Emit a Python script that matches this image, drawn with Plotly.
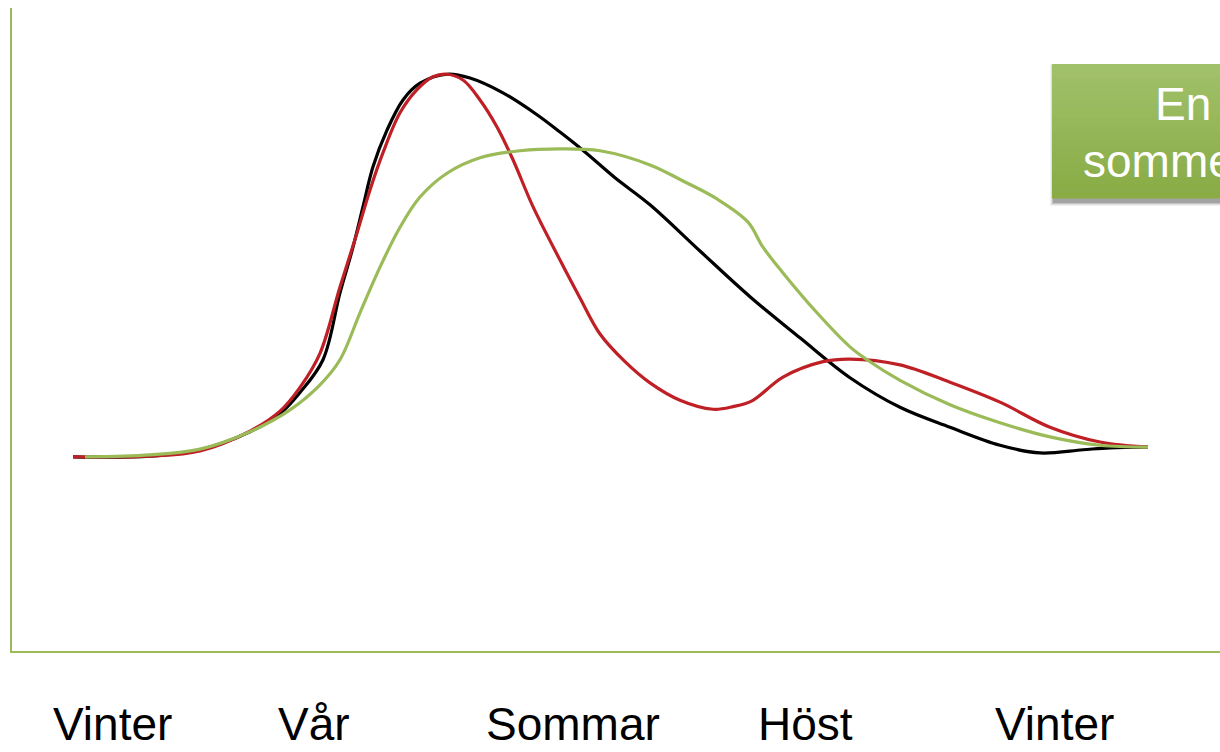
import plotly.graph_objects as go

# Season labels along the horizontal axis
season_labels = ["Vinter", "Vår", "Sommar", "Höst", "Vinter"]
season_pos = [10.0, 30.2, 56.1, 79.3, 104.2]

# Black curve
black_x = [6.1, 13.8, 18.8, 23.8, 26.8, 28.8, 31.1, 32.8, 34.1, 35.1, 36.1, 37.5, 39.1, 40.8, 43.5,
           45.8, 49.1, 52.5, 54.8, 57.3, 60.3, 63.8, 68.8, 73.8, 78.8, 83.8, 88.8, 93.8, 98.8,
           102.8, 107.1, 109.8, 113.6]
black_y = [30.2, 30.3, 31.3, 34.1, 36.9, 40.2, 45.3, 55.7, 62.8, 69.1, 75.3, 81.0, 85.7, 88.3, 89.7,
           89.1, 86.8, 83.4, 80.7, 77.6, 73.6, 69.4, 62.2, 55.1, 48.7, 42.5, 37.9, 34.8, 32.0,
           30.8, 31.3, 31.6, 31.7]

# Red curve
red_x = [6.1, 13.8, 18.8, 23.8, 26.8, 28.8, 30.8, 32.8, 34.5, 35.8, 37.1, 38.8, 40.5, 42.1, 43.5,
         45.1, 46.8, 48.5, 50.1, 52.1, 54.8, 56.8, 58.8, 61.3, 63.8, 66.8, 70.1, 72.1, 74.0,
         77.1, 81.1, 83.8, 88.8, 93.8, 98.8, 103.8, 108.8, 113.6]
red_y = [30.2, 30.3, 31.1, 34.2, 37.3, 41.0, 46.3, 56.6, 65.0, 71.7, 77.5, 83.7, 87.3, 89.3, 89.7,
         88.8, 85.7, 81.5, 76.4, 69.1, 60.8, 54.9, 49.3, 45.0, 41.7, 39.0, 37.6, 38.0, 38.9,
         42.6, 45.0, 45.4, 44.5, 41.8, 38.7, 34.8, 32.5, 31.7]

# Green curve
green_x = [7.3, 13.8, 18.8, 23.8, 27.8, 30.8, 32.8, 34.8, 36.8, 38.8, 40.8, 43.5, 46.8, 50.8, 54.8,
           58.8, 63.8, 67.1, 70.5, 73.6, 75.1, 77.1, 80.5, 83.8, 85.5, 88.8, 93.8, 98.8, 103.8,
           108.8, 113.6]
green_y = [30.2, 30.5, 31.4, 34.1, 37.5, 41.4, 45.3, 52.6, 59.7, 65.9, 70.6, 74.3, 76.7, 77.8, 78.1,
           77.8, 75.6, 73.1, 70.3, 66.7, 62.8, 58.8, 52.6, 47.3, 45.3, 42.1, 38.3, 35.5, 33.3,
           32.0, 31.7]

box_lines = ["En", "sommer"]

GREEN = "#9BBB59"
RED = "#BE2026"
FONT = "Arial, Liberation Sans, sans-serif"

fig = go.Figure()
for xs, ys, col in [(black_x, black_y, "#000000"), (red_x, red_y, RED), (green_x, green_y, GREEN)]:
    fig.add_trace(go.Scatter(x=xs, y=ys, mode="lines",
                             line=dict(color=col, width=3.2, shape="spline", smoothing=1.0),
                             showlegend=False, hoverinfo="skip"))

W, H = 1220, 752
ML, MR, MT, MB = 12, 0, 8, 101
pw, ph = W - ML - MR, H - MT - MB

def px_x(p):
    return (p - ML) / pw

def px_y(p):
    return (H - MB - p) / ph

shapes = []
# soft shadow of box
for i, a in enumerate([0.05, 0.08, 0.12, 0.16]):
    d = 4 - i
    shapes.append(dict(type="rect", xref="paper", yref="paper",
                       x0=px_x(1052 + 2 - d), x1=px_x(1300), y0=px_y(198 + 4 + d), y1=px_y(64 + 4 - d),
                       fillcolor=f"rgba(0,0,0,{a})", line=dict(width=0), layer="above"))
# gradient box (bands)
n = 20
top = (161, 192, 106)
bot = (137, 172, 69)
for i in range(n):
    t = i / (n - 1)
    c = tuple(round(top[k] + (bot[k] - top[k]) * t) for k in range(3))
    y0p = 64 + (198 - 64) * i / n
    y1p = 64 + (198 - 64) * (i + 1) / n
    shapes.append(dict(type="rect", xref="paper", yref="paper",
                       x0=px_x(1052), x1=px_x(1300), y0=px_y(y1p + 0.5), y1=px_y(y0p),
                       fillcolor=f"rgb{c}", line=dict(width=0), layer="above"))

annotations = []
for lab, xp in zip(season_labels, season_pos):
    annotations.append(dict(x=xp, y=px_y(724), xref="x", yref="paper", text=lab, showarrow=False,
                            xanchor="center", yanchor="middle",
                            font=dict(family=FONT, size=46, color="#000000")))
annotations.append(dict(x=px_x(1153), y=px_y(104), xref="paper", yref="paper", text=box_lines[0],
                        showarrow=False, xanchor="left", yanchor="middle",
                        font=dict(family=FONT, size=46, color="#FFFFFF")))
annotations.append(dict(x=px_x(1081), y=px_y(161), xref="paper", yref="paper", text=box_lines[1],
                        showarrow=False, xanchor="left", yanchor="middle",
                        font=dict(family=FONT, size=46, color="#FFFFFF")))

fig.update_layout(
    width=W, height=H,
    margin=dict(l=ML, r=MR, t=MT, b=MB),
    paper_bgcolor="white", plot_bgcolor="white",
    xaxis=dict(range=[0, 120.8], showgrid=False, zeroline=False, showticklabels=False, ticks="",
               showline=True, linecolor=GREEN, linewidth=1.5),
    yaxis=dict(range=[0, 100], showgrid=False, zeroline=False, showticklabels=False, ticks="",
               showline=True, linecolor=GREEN, linewidth=1.5),
    shapes=shapes,
    annotations=annotations,
)

fig.write_html("out.html", config={"displayModeBar": False},
               post_script="document.body.style.margin='0';document.body.style.overflow='hidden';")
